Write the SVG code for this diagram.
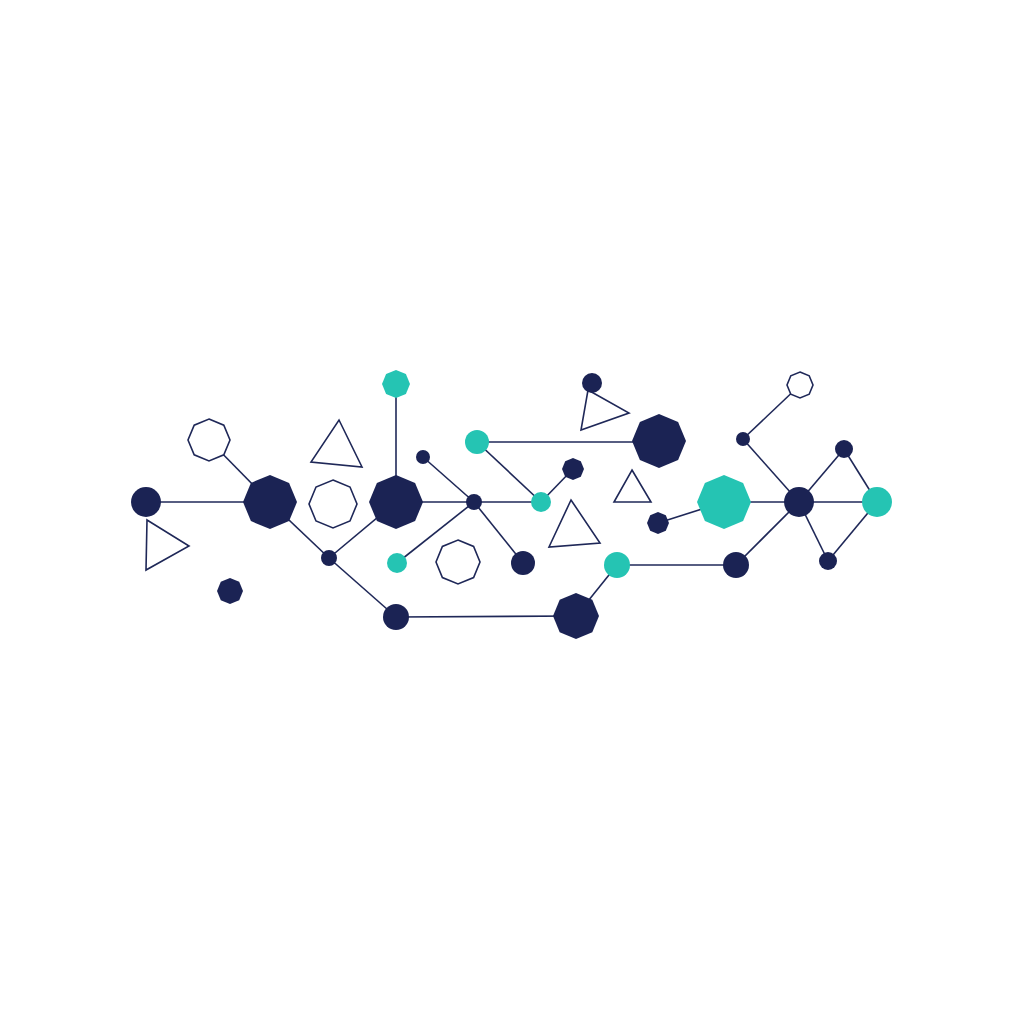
<svg xmlns="http://www.w3.org/2000/svg" xmlns:xlink="http://www.w3.org/1999/xlink" width="1024" height="1024" viewBox="0 0 1024 1024">
<style>
.e{stroke:#1f2858;stroke-width:1.6;fill:none}
.n{fill:#1b2354}
.t{fill:#25c4b3}
.o{fill:#fff;stroke:#1f2858;stroke-width:1.6}
</style>
<defs>
<polygon id="o27" points="0,-27 19.1,-19.1 27,0 19.1,19.1 0,27 -19.1,19.1 -27,0 -19.1,-19.1"/>
<polygon id="o23" points="0,-23 16.3,-16.3 23,0 16.3,16.3 0,23 -16.3,16.3 -23,0 -16.3,-16.3"/>
<polygon id="o24" points="0,-24 17,-17 24,0 17,17 0,24 -17,17 -24,0 -17,-17"/>
<polygon id="o22" points="0,-22 15.6,-15.6 22,0 15.6,15.6 0,22 -15.6,15.6 -22,0 -15.6,-15.6"/>
<polygon id="o21" points="0,-21 14.8,-14.8 21,0 14.8,14.8 0,21 -14.8,14.8 -21,0 -14.8,-14.8"/>
<polygon id="o14" points="0,-14 9.9,-9.9 14,0 9.9,9.9 0,14 -9.9,9.9 -14,0 -9.9,-9.9"/>
<polygon id="o13" points="0,-13 9.2,-9.2 13,0 9.2,9.2 0,13 -9.2,9.2 -13,0 -9.2,-9.2"/>
<polygon id="o11" points="0,-11 7.8,-7.8 11,0 7.8,7.8 0,11 -7.8,7.8 -11,0 -7.8,-7.8"/>
</defs>
<rect width="1024" height="1024" fill="#fff"/>
<g id="connectors">
<line class="e" x1="146" y1="502" x2="270" y2="502"/>
<line class="e" x1="209" y1="440" x2="270" y2="502"/>
<line class="e" x1="270" y1="502" x2="329" y2="558"/>
<line class="e" x1="329" y1="558" x2="396" y2="502"/>
<line class="e" x1="329" y1="558" x2="396" y2="617"/>
<line class="e" x1="396" y1="617" x2="576" y2="616"/>
<line class="e" x1="576" y1="616" x2="617" y2="565"/>
<line class="e" x1="617" y1="565" x2="736" y2="565"/>
<line class="e" x1="736" y1="565" x2="799" y2="502"/>
<line class="e" x1="396" y1="384" x2="396" y2="502"/>
<line class="e" x1="396" y1="502" x2="474" y2="502"/>
<line class="e" x1="423" y1="457" x2="474" y2="502"/>
<line class="e" x1="474" y1="502" x2="397" y2="563"/>
<line class="e" x1="474" y1="502" x2="523" y2="563"/>
<line class="e" x1="474" y1="502" x2="541" y2="502"/>
<line class="e" x1="477" y1="442" x2="541" y2="502"/>
<line class="e" x1="541" y1="502" x2="573" y2="469"/>
<line class="e" x1="477" y1="442" x2="659" y2="442"/>
<line class="e" x1="658" y1="523" x2="724" y2="502"/>
<line class="e" x1="724" y1="502" x2="799" y2="502"/>
<line class="e" x1="799" y1="502" x2="877" y2="502"/>
<line class="e" x1="743" y1="439" x2="799" y2="502"/>
<line class="e" x1="743" y1="439" x2="800" y2="385"/>
<line class="e" x1="799" y1="502" x2="844" y2="449"/>
<line class="e" x1="844" y1="449" x2="877" y2="502"/>
<line class="e" x1="799" y1="502" x2="828" y2="561"/>
<line class="e" x1="828" y1="561" x2="877" y2="502"/>
</g>
<g id="n1"><circle class="n" cx="146" cy="502" r="15"/></g>
<g id="n2"><use href="#o27" x="270" y="502" class="n"/></g>
<g id="n3"><use href="#o21" x="209" y="440" class="o"/></g>
<g id="n4"><polygon class="o" points="147,520 189,546 146,570"/></g>
<g id="n5"><use href="#o13" x="230" y="591" class="n"/></g>
<g id="n6"><polygon class="o" points="339,420 362,467 311,462"/></g>
<g id="n7"><use href="#o24" x="333" y="504" class="o"/></g>
<g id="n8"><circle class="n" cx="329" cy="558" r="8"/></g>
<g id="n9"><use href="#o27" x="396" y="502" class="n"/></g>
<g id="n10"><use href="#o14" x="396" y="384" class="t"/></g>
<g id="n11"><circle class="n" cx="423" cy="457" r="7"/></g>
<g id="n12"><circle class="n" cx="474" cy="502" r="8"/></g>
<g id="n13"><circle class="t" cx="397" cy="563" r="10"/></g>
<g id="n14"><use href="#o22" x="458" y="562" class="o"/></g>
<g id="n15"><circle class="n" cx="523" cy="563" r="12"/></g>
<g id="n16"><circle class="n" cx="396" cy="617" r="13"/></g>
<g id="n17"><use href="#o23" x="576" y="616" class="n"/></g>
<g id="n18"><circle class="t" cx="617" cy="565" r="13"/></g>
<g id="n19"><circle class="t" cx="477" cy="442" r="12"/></g>
<g id="n20"><circle class="t" cx="541" cy="502" r="10"/></g>
<g id="n21"><use href="#o11" x="573" y="469" class="n"/></g>
<g id="n22"><polygon class="o" points="588,390 629,413 581,430"/><circle class="n" cx="592" cy="383" r="10"/></g>
<g id="n23"><use href="#o27" x="659" y="441" class="n"/></g>
<g id="n24"><polygon class="o" points="632,470 651,502 614,502"/></g>
<g id="n25"><polygon class="o" points="571,500 600,543 549,547"/></g>
<g id="n26"><use href="#o11" x="658" y="523" class="n"/></g>
<g id="n27"><use href="#o27" x="724" y="502" class="t"/></g>
<g id="n28"><circle class="n" cx="736" cy="565" r="13"/></g>
<g id="n29"><circle class="n" cx="799" cy="502" r="15"/></g>
<g id="n30"><circle class="n" cx="743" cy="439" r="7"/></g>
<g id="n31"><use href="#o13" x="800" y="385" class="o"/></g>
<g id="n32"><circle class="n" cx="844" cy="449" r="9"/></g>
<g id="n33"><circle class="t" cx="877" cy="502" r="15"/></g>
<g id="n34"><circle class="n" cx="828" cy="561" r="9"/></g>
</svg>
